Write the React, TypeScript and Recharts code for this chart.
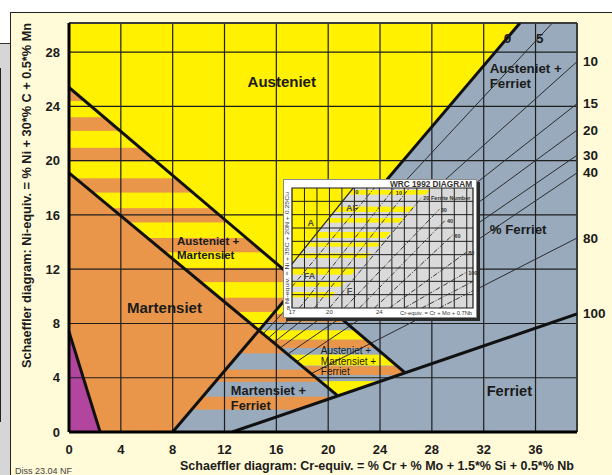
import React from 'react';
import { ComposedChart, XAxis, YAxis, Line, ReferenceArea, ReferenceLine } from 'recharts';

type P = { x: number; y: number };
type Box = { x: number; y: number; width: number; height: number };

const FONT = '"Liberation Sans", Arial, Helvetica, sans-serif';
const YELLOW = '#fff100';
const ORANGE = '#e9964b';
const STEEL = '#98aabb';
const PURPLE = '#b2469e';
const CREAM = '#fffad7';
const GRID = '#1e1e1e';
const INK = '#1b1b1b';
const WRC_GRAY = '#dadada';

// Schaeffler axes (Cr-equiv. horizontally, Ni-equiv. vertically)
const X_MAX = 39.2;
const Y_MAX = 30.15;
const X_TICKS = [0, 4, 8, 12, 16, 20, 24, 28, 32, 36];
const Y_TICKS = [0, 4, 8, 12, 16, 20, 24, 28];
const X_GRID = [4, 8, 12, 16, 20, 24, 28, 32, 36];
const Y_GRID = [4, 8, 12, 16, 20, 24, 28];

// phase boundaries
const austeniteLimit: P[] = [{ x: 0, y: 25.4 }, { x: 25.9, y: 4.4 }];
const martensiteLimit: P[] = [{ x: 0, y: 19.1 }, { x: 20.7, y: 2.7 }];
const ferrite0: P[] = [{ x: 8, y: 0 }, { x: 34.8, y: 30.15 }];
const ferrite100: P[] = [{ x: 12.6, y: 0 }, { x: 39.2, y: 8.7 }];
const cornerLimit: P[] = [{ x: 0, y: 7.4 }, { x: 2.4, y: 0 }];

// iso-ferrite lines (% ferrite)
const FERRITE_PCT = ['5', '10', '15', '20', '30', '40', '80'];
const FERRITE_FROM = [[15.0, 7.25], [15.4, 6.93], [15.8, 6.6], [16.3, 6.2], [16.9, 5.75], [17.6, 5.2], [18.7, 4.3]];
const FERRITE_TO = [[37.3, 30.15], [39.2, 27.3], [39.2, 24.2], [39.2, 22.25], [39.2, 20.4], [39.2, 19.1], [39.2, 14.3]];

// striped fields, bands as [low, high] Ni-equiv.
const AM_ORANGE = [[24.4, 25.6], [22.2, 23.2], [19.95, 20.95], [17.65, 18.7], [15.45, 16.5], [13.25, 14.3], [11.05, 12.1], [8.85, 9.9], [6.65, 7.7]];
const MF_ORANGE = [[5.8, 7.4], [3.7, 4.6], [1.65, 2.6]];
const AMF_YELLOW = [[2.6, 3.75], [4.9, 5.7], [6.8, 7.5], [8.7, 9.5], [10.6, 11.2]];
const AMF_ORANGE = [[4.2, 4.85], [6.2, 6.8], [8.1, 8.7], [10.0, 10.6]];

const FIELD_NAMES = [
  { lines: ['Austeniet'], at: [16.42, 25.87], size: 15, bold: true, anchor: 'middle', gap: 0 },
  { lines: ['Austeniet +', 'Ferriet'], at: [32.46, 26.82], size: 13.3, bold: true, anchor: 'start', gap: 15 },
  { lines: ['% Ferriet'], at: [32.46, 14.96], size: 13.3, bold: true, anchor: 'start', gap: 0 },
  { lines: ['Ferriet'], at: [32.23, 3.02], size: 14.6, bold: true, anchor: 'start', gap: 0 },
  { lines: ['Martensiet'], at: [4.47, 9.21], size: 15, bold: true, anchor: 'start', gap: 0 },
  { lines: ['Austeniet +', 'Martensiet'], at: [8.33, 14.08], size: 11.5, bold: true, anchor: 'start', gap: 14 },
  { lines: ['Austeniet +', 'Martensiet +', 'Ferriet'], at: [19.43, 6.04], size: 10, bold: false, anchor: 'start', gap: 10.5 },
  { lines: ['Martensiet +', 'Ferriet'], at: [12.49, 3.1], size: 12.8, bold: true, anchor: 'start', gap: 15 },
];

// WRC-1992 inset
const WRC_X: [number, number] = [17, 31.5];
const WRC_Y: [number, number] = [8, 17];
const WRC_X_TICKS = [17, 20, 24];
const WRC_Y_TICKS = [8];
const WRC_X_GRID = [18, 19, 20, 21, 22, 23, 24, 25, 26, 27, 28, 29, 30, 31];
const WRC_Y_GRID = [9, 10, 11, 12, 13, 14, 15, 16];
const wrcZero: P[] = [{ x: 17, y: 11.3 }, { x: 21.9, y: 17 }];
const wrcDuplexLimit: P[] = [{ x: 19.3, y: 8 }, { x: 28.2, y: 17 }];
const WRC_YELLOW_BANDS = [[16.5, 16.85], [15.2, 15.6], [14.4, 14.75], [13.25, 13.7], [12.6, 12.9], [11.75, 12.1], [10.5, 11.0], [9.6, 9.95], [8.8, 9.2]];
const WRC_FN = ['', '10', '20 Ferrite Number', '', '30', '40', '60', '80', '100', '', ''];
const WRC_FROM = [[17, 9.6], [17.6, 8], [20.0, 8], [18.8, 8], [21.2, 8], [22.4, 8], [23.6, 8], [24.8, 8], [26.0, 8], [27.4, 8], [28.8, 8]];
const WRC_TO = [[23.6, 17], [25.2, 17], [27.4, 16.3], [26.4, 17], [28.8, 15.4], [29.3, 14.6], [29.9, 13.5], [31.0, 12.2], [31.0, 10.7], [31.5, 10.0], [31.5, 9.3]];
const WRC_FIELD_NAMES = [
  { text: 'A', at: [18.5, 14.4] },
  { text: 'AF', at: [21.8, 15.5] },
  { text: 'FA', at: [18.4, 10.4] },
  { text: 'F', at: [21.6, 9.3] },
];

const segment = (from: number[], to: number[]): P[] => [
  { x: from[0], y: from[1] },
  { x: to[0], y: to[1] },
];
const ferriteLines = FERRITE_FROM.map((f, i) => segment(f, FERRITE_TO[i]));
const wrcLines = WRC_FROM.map((f, i) => segment(f, WRC_TO[i]));

// intersection of the two (infinite) lines through a and b
function meet(a: P[], b: P[]): P {
  const [p, q] = a;
  const [r, s] = b;
  const d1x = q.x - p.x, d1y = q.y - p.y;
  const d2x = s.x - r.x, d2y = s.y - r.y;
  const den = d1x * d2y - d1y * d2x;
  const t = ((r.x - p.x) * d2y - (r.y - p.y) * d2x) / den;
  return { x: p.x + t * d1x, y: p.y + t * d1y };
}

// maps data units onto the rectangle a ReferenceArea spans over the whole domain
function project(b: Box, xd: [number, number], yd: [number, number]) {
  const px = (v: number) => b.x + ((v - xd[0]) / (xd[1] - xd[0])) * b.width;
  const py = (v: number) => b.y + ((yd[1] - v) / (yd[1] - yd[0])) * b.height;
  const pts = (list: P[]) => list.map((p) => `${px(p.x)},${py(p.y)}`).join(' ');
  return { px, py, pts };
}

function SchaefflerFields(b: Box) {
  const { py, pts } = project(b, [0, X_MAX], [0, Y_MAX]);
  const top = meet(ferrite0, austeniteLimit);
  const cross = meet(ferrite0, martensiteLimit);
  const foot = meet(martensiteLimit, ferrite100);
  const tip = meet(austeniteLimit, ferrite100);
  const origin = { x: 0, y: 0 };
  const amField = [austeniteLimit[0], top, cross, martensiteLimit[0]];
  const mField = [martensiteLimit[0], cross, ferrite0[0], origin];
  const cornerField = [origin, cornerLimit[0], cornerLimit[1]];
  const ferriteSide = [ferrite0[0], { x: X_MAX, y: 0 }, { x: X_MAX, y: Y_MAX }, ferrite0[1]];
  const mfField = [ferrite0[0], ferrite100[0], foot, cross];
  const amfField = [cross, top, tip, foot];

  const stripes = (bands: number[][], fill: string, clip: string) => (
    <g clipPath={`url(#${clip})`}>
      {bands.map(([lo, hi], i) => (
        <rect key={i} x={b.x} y={py(hi)} width={b.width} height={py(lo) - py(hi)} fill={fill} />
      ))}
    </g>
  );

  return (
    <g>
      <defs>
        <clipPath id="field-am"><polygon points={pts(amField)} /></clipPath>
        <clipPath id="field-mf"><polygon points={pts(mfField)} /></clipPath>
        <clipPath id="field-amf"><polygon points={pts(amfField)} /></clipPath>
      </defs>
      <rect x={b.x} y={b.y} width={b.width} height={b.height} fill={YELLOW} />
      {stripes(AM_ORANGE, ORANGE, 'field-am')}
      <polygon points={pts(mField)} fill={ORANGE} />
      <polygon points={pts(cornerField)} fill={PURPLE} />
      <polygon points={pts(ferriteSide)} fill={STEEL} />
      {stripes(MF_ORANGE, ORANGE, 'field-mf')}
      {stripes(AMF_YELLOW, YELLOW, 'field-amf')}
      {stripes(AMF_ORANGE, ORANGE, 'field-amf')}
    </g>
  );
}

function SchaefflerText(b: Box) {
  const { px, py } = project(b, [0, X_MAX], [0, Y_MAX]);
  const ends = [
    { text: '0', end: ferrite0[1] },
    ...ferriteLines.map((l, i) => ({ text: FERRITE_PCT[i], end: l[1] })),
    { text: '100', end: ferrite100[1] },
  ];
  return (
    <g fontFamily={FONT} fill={INK}>
      {FIELD_NAMES.map((f, i) => (
        <text
          key={i}
          x={px(f.at[0])}
          y={py(f.at[1])}
          fontSize={f.size}
          fontWeight={f.bold ? 700 : 400}
          textAnchor={f.anchor}
          dominantBaseline="central"
        >
          {f.lines.map((t, j) => (
            <tspan key={j} x={px(f.at[0])} dy={j === 0 ? 0 : f.gap}>{t}</tspan>
          ))}
        </text>
      ))}
      {ends.map((e) =>
        e.end.x < X_MAX ? (
          <text key={e.text} x={px(e.end.x) - 12.5} y={py(e.end.y) + 15} fontSize={13.5} fontWeight={700}
            textAnchor="middle" dominantBaseline="central">{e.text}</text>
        ) : (
          <text key={e.text} x={b.x + b.width + 6} y={py(e.end.y)} fontSize={13.5} fontWeight={700}
            dominantBaseline="central">{e.text}</text>
        )
      )}
    </g>
  );
}

function WrcFields(b: Box) {
  const { py, pts } = project(b, WRC_X, WRC_Y);
  const austenite = [wrcZero[0], wrcZero[1], { x: WRC_X[0], y: WRC_Y[1] }];
  const duplex = [{ x: WRC_X[0], y: WRC_Y[0] }, wrcDuplexLimit[0], wrcDuplexLimit[1], wrcZero[1], wrcZero[0]];
  return (
    <g>
      <defs>
        <clipPath id="wrc-duplex"><polygon points={pts(duplex)} /></clipPath>
      </defs>
      <rect x={b.x} y={b.y} width={b.width} height={b.height} fill={WRC_GRAY} />
      <polygon points={pts(austenite)} fill={YELLOW} />
      <g clipPath="url(#wrc-duplex)">
        {WRC_YELLOW_BANDS.map(([lo, hi], i) => (
          <rect key={i} x={b.x} y={py(hi)} width={b.width} height={py(lo) - py(hi)} fill={YELLOW} />
        ))}
      </g>
    </g>
  );
}

function WrcText(b: Box) {
  const { px, py } = project(b, WRC_X, WRC_Y);
  const midY = b.y + b.height / 2;
  return (
    <g fontFamily={FONT} fill="#333">
      <text x={b.x + b.width - 1} y={b.y - 1.5} fontSize={8.5} fontWeight={700} textAnchor="end"
        textLength={82} lengthAdjust="spacingAndGlyphs">WRC 1992 DIAGRAM</text>
      <text x={b.x - 5} y={midY} fontSize={5.5} textAnchor="middle" dominantBaseline="central"
        transform={`rotate(-90 ${b.x - 5} ${midY})`} textLength={112} lengthAdjust="spacingAndGlyphs">
        Ni-equiv. = Ni + 35C + 20N + 0.25Cu
      </text>
      <text x={b.x + b.width - 1} y={b.y + b.height + 6.5} fontSize={5.5} textAnchor="end"
        textLength={72} lengthAdjust="spacingAndGlyphs">Cr-equiv. = Cr + Mo + 0.7Nb</text>
      {WRC_FIELD_NAMES.map((f) => (
        <text key={f.text} x={px(f.at[0])} y={py(f.at[1])} fontSize={9} fontWeight={700} fill="#4a4a4a"
          textAnchor="middle" dominantBaseline="central">{f.text}</text>
      ))}
      <text x={px(wrcZero[1].x) + 2} y={py(wrcZero[1].y) + 6} fontSize={6} fontWeight={700}>0</text>
      {wrcLines.map((l, i) =>
        WRC_FN[i] ? (
          <text key={i} x={px(l[1].x) + 1.5} y={py(l[1].y) + (l[1].y >= WRC_Y[1] ? 7 : 3)} fontSize={5.5}
            fontWeight={700}>{WRC_FN[i]}</text>
        ) : null
      )}
    </g>
  );
}

const tickStyle = { fontSize: 13, fontWeight: 700, fill: INK, fontFamily: FONT };

function SchaefflerChart() {
  return (
    <ComposedChart width={612} height={475} margin={{ top: 23, right: 35, bottom: 21, left: 39 }}>
      <XAxis type="number" dataKey="x" domain={[0, X_MAX]} ticks={X_TICKS} allowDataOverflow interval={0}
        tickLine={false} tickMargin={7} height={22} axisLine={{ stroke: '#000', strokeWidth: 3 }} tick={tickStyle} />
      <YAxis type="number" domain={[0, Y_MAX]} ticks={Y_TICKS} allowDataOverflow interval={0}
        tickLine={false} tickMargin={3} width={30} axisLine={{ stroke: '#000', strokeWidth: 3 }} tick={tickStyle} />
      <ReferenceArea x1={0} x2={X_MAX} y1={0} y2={Y_MAX} shape={SchaefflerFields} zIndex={101} />
      {X_GRID.map((v) => (
        <ReferenceLine key={`gx${v}`} x={v} stroke={GRID} strokeWidth={1.2} zIndex={102} />
      ))}
      {Y_GRID.map((v) => (
        <ReferenceLine key={`gy${v}`} y={v} stroke={GRID} strokeWidth={1.2} zIndex={102} />
      ))}
      <ReferenceLine x={X_MAX} stroke="#3a3a3a" strokeWidth={2} zIndex={102} />
      <ReferenceLine y={Y_MAX} stroke="#3a3a3a" strokeWidth={2} zIndex={102} />
      {ferriteLines.map((d, i) => (
        <Line key={`fn${i}`} data={d} dataKey="y" type="linear" stroke="#2c2c2c" strokeWidth={1}
          dot={false} activeDot={false} isAnimationActive={false} zIndex={103} />
      ))}
      {[austeniteLimit, martensiteLimit, ferrite0, ferrite100, cornerLimit].map((d, i) => (
        <Line key={`b${i}`} data={d} dataKey="y" type="linear" stroke="#111" strokeWidth={3}
          dot={false} activeDot={false} isAnimationActive={false} zIndex={104} />
      ))}
      <ReferenceArea x1={0} x2={X_MAX} y1={0} y2={Y_MAX} shape={SchaefflerText} zIndex={105} />
    </ComposedChart>
  );
}

const smallTick = { fontSize: 6, fill: '#333', fontFamily: FONT };

function WrcInset() {
  return (
    <ComposedChart width={194} height={139} margin={{ top: 9, right: 4, bottom: 0, left: 0 }}>
      <XAxis type="number" dataKey="x" domain={WRC_X} ticks={WRC_X_TICKS} allowDataOverflow interval={0}
        tickLine={false} axisLine={false} tickSize={0} tickMargin={2} height={10} tick={smallTick} />
      <YAxis type="number" domain={WRC_Y} ticks={WRC_Y_TICKS} allowDataOverflow interval={0}
        tickLine={false} axisLine={false} tickSize={0} tickMargin={2} width={9} tick={smallTick} />
      <ReferenceArea x1={WRC_X[0]} x2={WRC_X[1]} y1={WRC_Y[0]} y2={WRC_Y[1]} shape={WrcFields} zIndex={101} />
      {WRC_X_GRID.map((v) => (
        <ReferenceLine key={`wx${v}`} x={v} stroke={GRID} strokeWidth={1} zIndex={102} />
      ))}
      {WRC_Y_GRID.map((v) => (
        <ReferenceLine key={`wy${v}`} y={v} stroke={GRID} strokeWidth={1} zIndex={102} />
      ))}
      {wrcLines.map((d, i) => (
        <Line key={`wl${i}`} data={d} dataKey="y" type="linear" stroke="#3a3a3a" strokeWidth={1}
          strokeDasharray="5 1.5 1 1.5" dot={false} activeDot={false} isAnimationActive={false} zIndex={103} />
      ))}
      <Line data={wrcZero} dataKey="y" type="linear" stroke="#2a2a2a" strokeWidth={1.2}
        dot={false} activeDot={false} isAnimationActive={false} zIndex={104} />
      <ReferenceArea x1={WRC_X[0]} x2={WRC_X[1]} y1={WRC_Y[0]} y2={WRC_Y[1]} fill="none" fillOpacity={0}
        stroke="#1a1a1a" strokeWidth={1.2} zIndex={105} />
      <ReferenceArea x1={WRC_X[0]} x2={WRC_X[1]} y1={WRC_Y[0]} y2={WRC_Y[1]} shape={WrcText} zIndex={106} />
    </ComposedChart>
  );
}

export default function App() {
  return (
    <div style={{ position: 'absolute', left: 0, top: 0, width: 612, height: 475, overflow: 'hidden', background: '#fff', fontFamily: FONT }}>
      <div style={{ position: 'absolute', left: 0, top: 43, width: 10, height: 432, background: '#d6d6d6', borderTop: '1px solid #333', boxSizing: 'border-box' }} />
      <div style={{ position: 'absolute', left: 0, top: 68, width: 1, height: 354, background: '#222' }} />
      <div style={{ position: 'absolute', left: 10, top: 12, width: 602, height: 463, background: CREAM, borderTop: '1px solid #222', borderLeft: '1px solid #222', boxSizing: 'border-box' }} />
      <div style={{ position: 'absolute', left: 0, top: 0 }}>
        <SchaefflerChart />
      </div>
      <svg width={612} height={475} style={{ position: 'absolute', left: 0, top: 0, pointerEvents: 'none' }} fontFamily={FONT}>
        <text x={377} y={466} textAnchor="middle" dominantBaseline="central" fontSize={12.5} fontWeight={700}
          fill={INK} textLength={394} lengthAdjust="spacingAndGlyphs">
          Schaeffler diagram: Cr-equiv. = % Cr + % Mo + 1.5*% Si + 0.5*% Nb
        </text>
        <text x={27} y={195.5} textAnchor="middle" dominantBaseline="central" fontSize={12.5} fontWeight={700}
          fill={INK} transform="rotate(-90 27 195.5)" textLength={345} lengthAdjust="spacingAndGlyphs">
          Schaeffler diagram: Ni-equiv. = % Ni + 30*% C + 0.5*% Mn
        </text>
        <text x={15} y={474} fontSize={9} fill="#444">Diss 23.04 NF</text>
      </svg>
      <div style={{ position: 'absolute', left: 283, top: 179, width: 194, height: 139, background: '#fff', border: '1px solid #8a8a8a', boxSizing: 'border-box', boxShadow: '3px 3px 0 #2a2a2a' }}>
        <div style={{ position: 'absolute', left: -1, top: -1 }}>
          <WrcInset />
        </div>
      </div>
    </div>
  );
}
